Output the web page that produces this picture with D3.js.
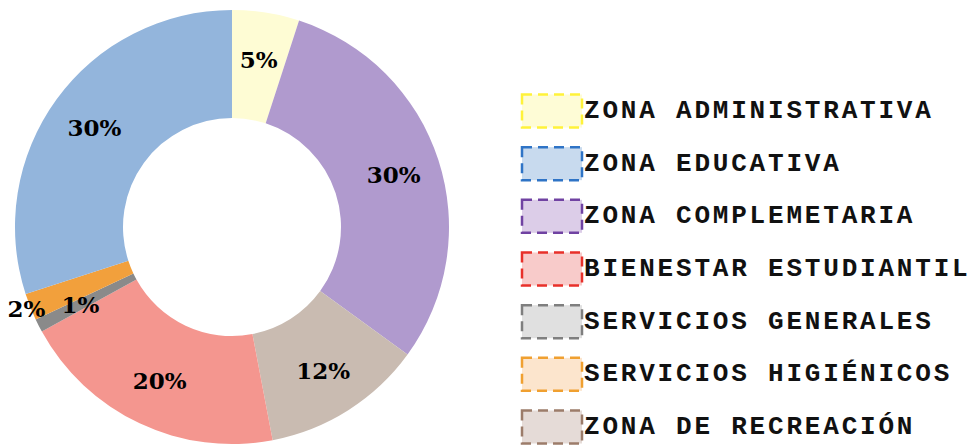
<!DOCTYPE html>
<html>
<head>
<meta charset="utf-8">
<script src="https://cdn.jsdelivr.net/npm/d3@7"></script>
<style>
  body { margin: 0; background: #fff; }
  svg { display: block; }
</style>
</head>
<body>
<svg id="chart" width="976" height="445"></svg>
<script>
// slices in drawing order, clockwise from 12 o'clock
const sliceNames = ['ZONA ADMINISTRATIVA', 'ZONA COMPLEMETARIA', 'ZONA DE RECREACIÓN',
  'BIENESTAR ESTUDIANTIL', 'SERVICIOS GENERALES', 'SERVICIOS HIGIÉNICOS', 'ZONA EDUCATIVA']
const sliceValues = [5, 30, 12, 20, 1, 2, 30]
const sliceColors = ['#fefcd4', '#b09ace', '#c9bbb1', '#f4968f', '#8a8a8a', '#f2a03c', '#93b5dc']

// legend order as printed
const legendNames = ['ZONA ADMINISTRATIVA', 'ZONA EDUCATIVA', 'ZONA COMPLEMETARIA',
  'BIENESTAR ESTUDIANTIL', 'SERVICIOS GENERALES', 'SERVICIOS HIGIÉNICOS', 'ZONA DE RECREACIÓN']
const legendFill = ['#fefcd6', '#c8daee', '#dccde8', '#f8cbca', '#e0e0e0', '#fce5cd', '#e5dbd7']
const legendStroke = ['#fff23a', '#2f74c6', '#7042a2', '#e8302a', '#7f7f7f', '#f0a030', '#9c7c6a']

const svg = d3.select('#chart')

/* ----------  DONUT  ---------- */
const cx = 232, cy = 227
const outerR = 217, innerR = 109
const labelR = 170

const pie = d3.pie().sort(null).value(d => d.v)
const arcs = pie(sliceValues.map((v, i) => ({ v, name: sliceNames[i], color: sliceColors[i] })))

const arc = d3.arc().innerRadius(innerR).outerRadius(outerR)
const labelArc = d3.arc().innerRadius(labelR).outerRadius(labelR)
const outsideArc = d3.arc().innerRadius(221).outerRadius(221) // for the tiny 2% slice

const donut = svg.append('g').attr('transform', `translate(${cx},${cy})`)

donut.selectAll('path')
  .data(arcs)
  .enter().append('path')
  .attr('d', arc)
  .attr('fill', d => d.data.color)

donut.selectAll('text')
  .data(arcs)
  .enter().append('text')
  .attr('transform', d => {
    const c = d.data.v === 2 ? outsideArc.centroid(d) : labelArc.centroid(d)
    return `translate(${c[0]},${c[1]})`
  })
  .attr('text-anchor', 'middle')
  .attr('dominant-baseline', 'central')
  .style('font-family', '"DejaVu Serif", serif')
  .style('font-weight', 'bold')
  .style('font-size', '23px')
  .style('fill', '#000')
  .text(d => d.data.v + '%')

/* ----------  LEGEND  ---------- */
const rowY = d3.scalePoint().domain(legendNames).range([111, 427])

const legend = svg.append('g')
const rows = legend.selectAll('g')
  .data(legendNames)
  .enter().append('g')
  .attr('transform', d => `translate(0,${rowY(d)})`)

rows.append('rect')
  .attr('x', 522)
  .attr('y', -16.5)
  .attr('width', 60)
  .attr('height', 33)
  .attr('fill', (d, i) => legendFill[i])
  .attr('stroke', (d, i) => legendStroke[i])
  .attr('stroke-width', 2.5)
  .attr('stroke-dasharray', '10,6')

rows.append('text')
  .attr('x', 584)
  .attr('y', 0)
  .attr('dominant-baseline', 'central')
  .style('font-family', '"Liberation Mono", "Courier New", monospace')
  .style('font-weight', 'bold')
  .style('font-size', '26px')
  .style('letter-spacing', '2.8px')
  .style('fill', '#111')
  .text(d => d)
</script>
</body>
</html>
